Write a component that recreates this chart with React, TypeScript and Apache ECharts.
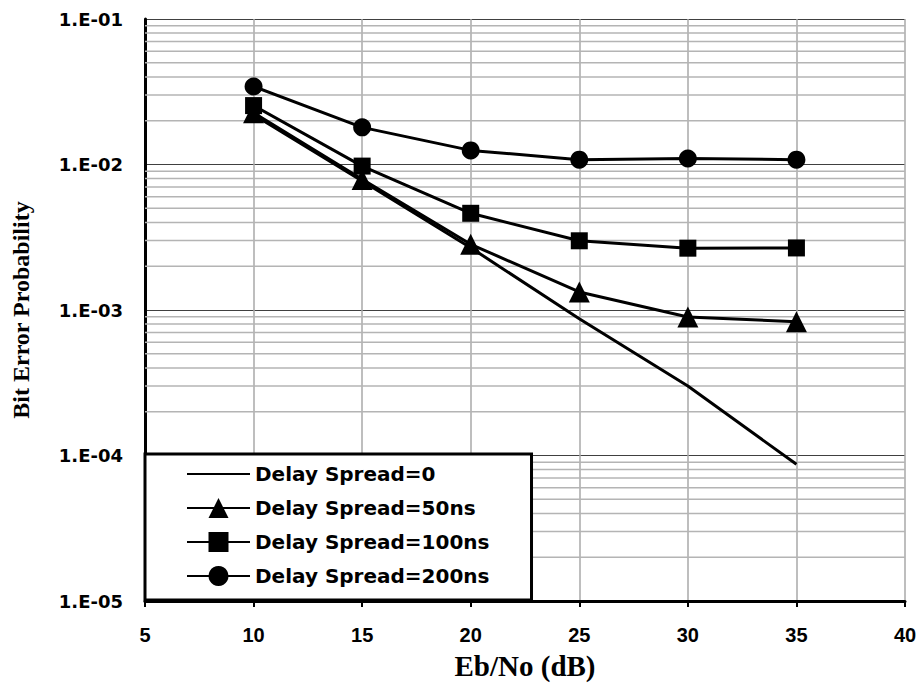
import React, { useEffect, useRef } from "react";
import * as echarts from "echarts";

const ebNo = [10, 15, 20, 25, 30, 35];
const spread0 = [2.2e-2, 7.7e-3, 2.68e-3, 8.7e-4, 3.0e-4, 8.7e-5];
const spread50 = [2.27e-2, 7.9e-3, 2.83e-3, 1.33e-3, 8.95e-4, 8.3e-4];
const spread100 = [2.54e-2, 9.75e-3, 4.62e-3, 2.99e-3, 2.66e-3, 2.67e-3];
const spread200 = [3.44e-2, 1.8e-2, 1.25e-2, 1.08e-2, 1.1e-2, 1.08e-2];
const seriesNames = [
  "Delay Spread=0",
  "Delay Spread=50ns",
  "Delay Spread=100ns",
  "Delay Spread=200ns",
];
const xRange = [5, 40];
const decades = [1e-5, 1e-4, 1e-3, 1e-2];
const minorSteps = [2, 3, 4, 5, 6, 7, 8, 9];

const pair = (ys: number[]) => ebNo.map((x, i) => [x, ys[i]]);

export default function App() {
  const ref = useRef<HTMLDivElement>(null);
  useEffect(() => {
    if (!ref.current) return;
    const chart = echarts.init(ref.current, undefined, { renderer: "svg" });
    const minorValues: number[] = [];
    decades.forEach((d) => minorSteps.forEach((m) => minorValues.push(d * m)));
    const minorSeries = minorValues.map((v) => ({
      name: "minor",
      type: "line",
      data: xRange.map((x) => [x, v]),
      symbol: "none",
      silent: true,
      z: 1,
      lineStyle: { color: "#b4b4b4", width: 1.5 },
      emphasis: { disabled: true },
    }));
    const lineStyle = { color: "#000", width: 3 };
    const itemStyle = { color: "#000" };
    chart.setOption({
      animation: false,
      backgroundColor: "#fff",
      grid: { left: 145, right: 17, top: 19, bottom: 82 },
      legend: {
        data: [
          { name: seriesNames[0], itemStyle: { color: "rgba(0,0,0,0)", opacity: 0, borderWidth: 0 } },
          seriesNames[1],
          seriesNames[2],
          seriesNames[3],
        ],
        orient: "vertical",
        left: 145,
        top: 454,
        itemWidth: 63,
        itemHeight: 25,
        itemGap: 14,
        padding: [10, 42, 14, 41],
        backgroundColor: "#fff",
        borderColor: "#000",
        borderWidth: 3,
        borderRadius: 0,
        textStyle: {
          fontFamily: "DejaVu Sans",
          fontWeight: "bold",
          fontSize: 20,
          color: "#000",
        },
      },
      xAxis: {
        type: "value",
        min: 5,
        max: 40,
        interval: 5,
        name: "Eb/No (dB)",
        nameLocation: "middle",
        nameGap: 50,
        nameTextStyle: {
          fontFamily: "Liberation Serif",
          fontWeight: "bold",
          fontSize: 29,
          color: "#000",
        },
        axisLine: { show: true, lineStyle: { color: "#000", width: 3 } },
        axisTick: { show: true, length: 6, lineStyle: { color: "#000", width: 2 } },
        axisLabel: {
          margin: 24,
          fontFamily: "Liberation Sans",
          fontWeight: "bold",
          fontSize: 20,
          color: "#000",
        },
        splitLine: { show: true, lineStyle: { color: "#a8a8a8", width: 1.5 } },
      },
      yAxis: {
        type: "log",
        logBase: 10,
        min: 1e-5,
        max: 1e-1,
        name: "Bit Error Probability",
        nameLocation: "middle",
        nameGap: 112,
        nameTextStyle: {
          fontFamily: "Liberation Serif",
          fontWeight: "bold",
          fontSize: 24,
          color: "#000",
        },
        axisLine: { show: true, lineStyle: { color: "#000", width: 3 } },
        axisTick: { show: false },
        axisLabel: {
          margin: 22,
          fontFamily: "DejaVu Sans",
          fontWeight: "bold",
          fontSize: 18,
          color: "#000",
          formatter: (v: number) => {
            const e = Math.round(Math.log10(v));
            const a = Math.abs(e);
            return "1.E" + (e < 0 ? "-" : "+") + (a < 10 ? "0" + a : "" + a);
          },
        },
        splitLine: { show: true, lineStyle: { color: "#404040", width: 1 } },
      },
      series: [
        ...minorSeries,
        {
          name: seriesNames[0],
          type: "line",
          data: pair(spread0),
          symbol: "none",
          lineStyle,
          itemStyle,
          z: 3,
        },
        {
          name: seriesNames[1],
          type: "line",
          data: pair(spread50),
          symbol: "triangle",
          symbolSize: 21,
          lineStyle,
          itemStyle,
          z: 4,
        },
        {
          name: seriesNames[2],
          type: "line",
          data: pair(spread100),
          symbol: "rect",
          symbolSize: 17,
          lineStyle,
          itemStyle,
          z: 5,
        },
        {
          name: seriesNames[3],
          type: "line",
          data: pair(spread200),
          symbol: "circle",
          symbolSize: 18,
          lineStyle,
          itemStyle,
          z: 6,
        },
      ],
    });
    return () => chart.dispose();
  }, []);
  return <div ref={ref} style={{ width: 922, height: 685, position: "absolute", left: 0, top: 0 }} />;
}
